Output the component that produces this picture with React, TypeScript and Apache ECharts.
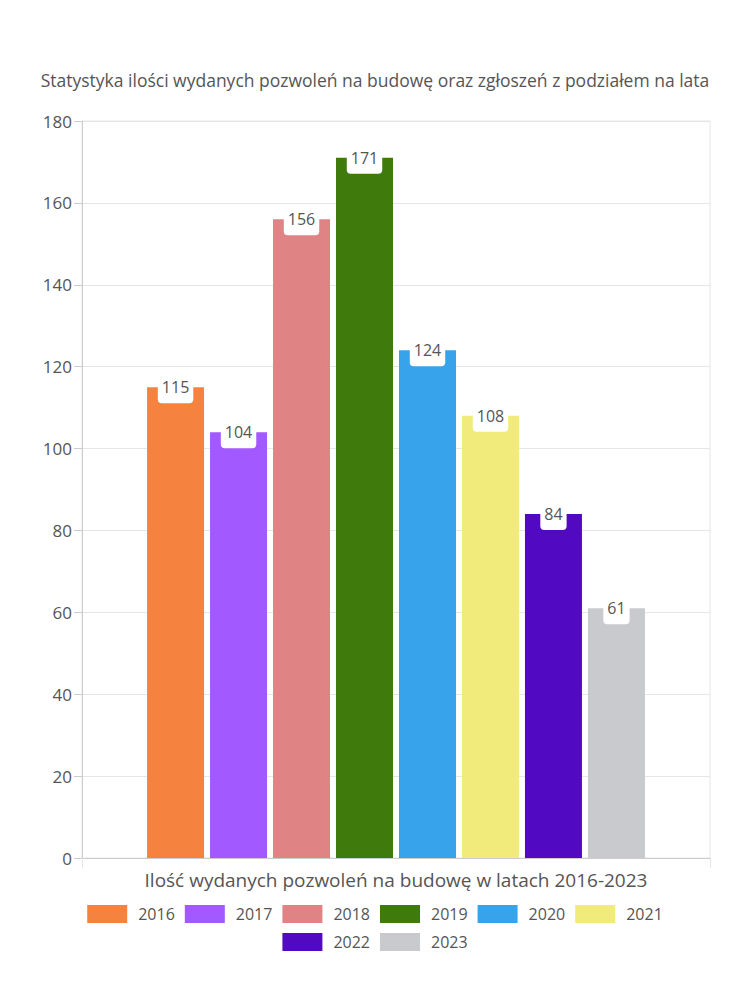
import React, { useEffect, useRef } from "react";
import * as echarts from "echarts";

const years = ["2016", "2017", "2018", "2019", "2020", "2021", "2022", "2023"];
const values = [115, 104, 156, 171, 124, 108, 84, 61];
const colors = ["#F5833F", "#A259FF", "#E08384", "#3E7B0C", "#37A3EA", "#F0EB7B", "#510AC2", "#C9CACE"];
const yTicks = [0, 20, 40, 60, 80, 100, 120, 140, 160, 180];
const category = ["Ilość wydanych pozwoleń na budowę w latach 2016-2023"];

const FONT = "Open Sans";
const TXT = "#555555";

const legendBase = {
  left: "center",
  icon: "rect",
  itemWidth: 40,
  itemHeight: 18,
  itemGap: 10,
  textStyle: { fontFamily: FONT, fontSize: 16, color: TXT, padding: [0, 0, 0, 6] },
};

export default function App() {
  const ref = useRef<HTMLDivElement>(null);
  useEffect(() => {
    if (!ref.current) return;
    const chart = echarts.init(ref.current, undefined, { renderer: "svg" });
    chart.setOption({
      animation: false,
      textStyle: { fontFamily: FONT },
      title: {
        text: "Statystyka ilości wydanych pozwoleń na budowę oraz zgłoszeń z podziałem na lata",
        left: "center",
        top: 66,
        textStyle: { fontFamily: FONT, fontSize: 17.5, fontWeight: "normal", color: TXT },
      },
      grid: {
        left: 82,
        right: 40,
        top: 121,
        bottom: 142,
        show: true,
        borderColor: "#e6e6e6",
        borderWidth: 1,
      },
      legend: [
        { ...legendBase, top: 900, data: years.slice(0, 6) },
        { ...legendBase, top: 928, data: years.slice(6) },
      ],
      xAxis: {
        type: "category",
        data: category,
        axisLine: { lineStyle: { color: "#cccccc" } },
        axisTick: { show: true, length: 10, lineStyle: { color: "#e6e6e6" } },
        axisLabel: { show: false },
        name: category[0],
        nameLocation: "middle",
        nameGap: 12,
        nameTextStyle: { fontFamily: FONT, fontSize: 19, color: TXT },
      },
      yAxis: {
        type: "value",
        min: yTicks[0],
        max: yTicks[yTicks.length - 1],
        interval: 20,
        axisLine: { show: true, lineStyle: { color: "#cccccc" } },
        axisTick: { show: true, length: 8, lineStyle: { color: "#cccccc" } },
        axisLabel: { fontFamily: FONT, fontSize: 17, color: TXT, margin: 10 },
        splitLine: { lineStyle: { color: "#e6e6e6" } },
      },
      series: years.map((y, i) => ({
        name: y,
        type: "bar",
        data: [values[i]],
        barWidth: 57,
        barGap: "10.5%",
        itemStyle: { color: colors[i] },
        label: {
          show: true,
          position: "insideTop",
          distance: 0,
          offset: [0, -10],
          backgroundColor: "#ffffff",
          borderRadius: [0, 0, 4, 4],
          padding: [2, 4, 8, 4],
          fontFamily: FONT,
          fontSize: 16,
          color: TXT,
        },
      })),
    });
    return () => chart.dispose();
  }, []);
  return <div ref={ref} style={{ width: 750, height: 1000, margin: -8 }} />;
}
